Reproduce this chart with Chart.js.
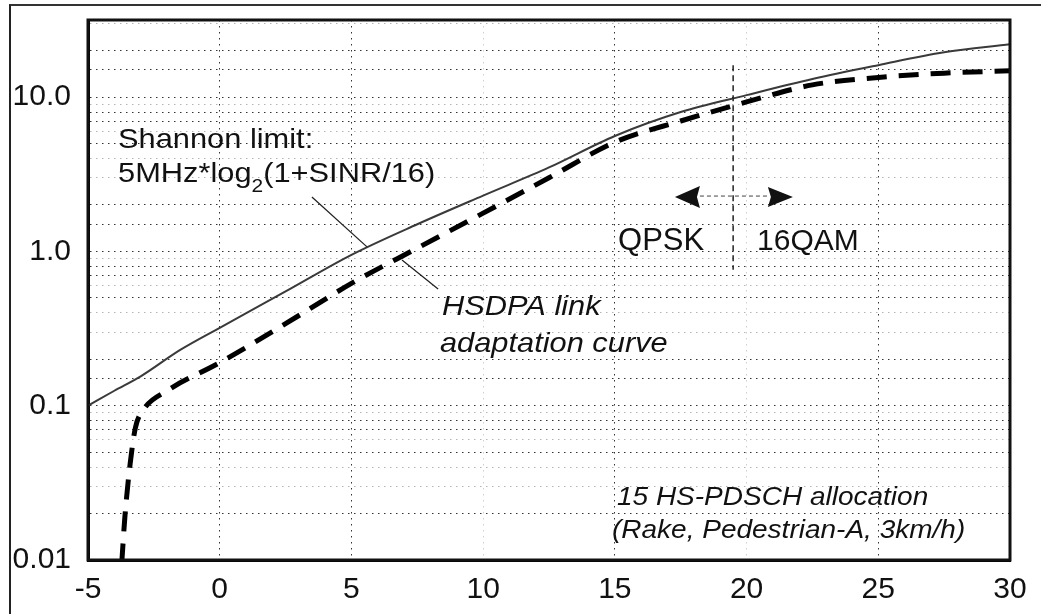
<!DOCTYPE html>
<html>
<head>
<meta charset="utf-8">
<script src="https://cdn.jsdelivr.net/npm/chart.js@4.4.1/dist/chart.umd.min.js"></script>
<style>
html,body{margin:0;padding:0;background:#fff;}
#wrap{position:relative;width:1041px;height:614px;overflow:hidden;background:#fff;}
#frame{position:absolute;left:9px;top:4px;width:1100px;height:700px;border-left:2px solid #222;border-top:2px solid #333;pointer-events:none;}
canvas{position:absolute;left:0;top:0;}
</style>
</head>
<body>
<div id="wrap"><canvas id="c" width="1041" height="614"></canvas><div id="frame"></div></div>
<script>
// ---- data ----
const shannonSinr = [-5, -4, -3, -1.5, 0, 2.5, 5, 7.5, 10, 12.5, 15, 17.5, 20, 22.5, 25, 27.5, 30];
const shannonMbps = [0.1, 0.125, 0.155, 0.23, 0.32, 0.55, 0.95, 1.5, 2.3, 3.5, 5.6, 8.0, 10.3, 13.1, 16.1, 19.5, 22];
const hsdpaSinr = [-3.72, -3.6, -3.4, -3.2, -2.9, -2, 0, 2.5, 5, 7.5, 10, 12.5, 15, 17.5, 20, 22.5, 25, 27.5, 30];
const hsdpaMbps = [0.0095, 0.019, 0.042, 0.072, 0.094, 0.125, 0.19, 0.34, 0.62, 1.05, 1.77, 3.0, 5.1, 7.0, 9.3, 12.0, 13.4, 14.3, 14.8];
const yLabelValues = [0.01, 0.1, 1, 10];
const yLabelTexts = ['0.01', '0.1', '1.0', '10.0'];
const xMin = -5, xMax = 30, xStep = 5;
const yMin = 0.01, yMax = 31.6;
const modulationBoundary = 19.49;

// ---- annotation layout (data coordinates) ----
const FONT = '"Liberation Sans", Arial, sans-serif';
const notes = [
  {text: 'Shannon limit:', x: -3.86, y: 4.68, size: 28, italic: false, sx: 1.1},
  {text: 'HSDPA link', x: 8.44, y: 0.387, size: 28, italic: true, sx: 1.1},
  {text: 'adaptation curve', x: 8.36, y: 0.223, size: 28, italic: true, sx: 1.1},
  {text: 'QPSK', x: 15.12, y: 1.02, size: 31, italic: false, sx: 1.0},
  {text: '16QAM', x: 20.40, y: 1.02, size: 30, italic: false, sx: 1.0},
  {text: '15 HS-PDSCH allocation', x: 15.08, y: 0.0227, size: 25, italic: true, sx: 1.12},
  {text: '(Rake, Pedestrian-A, 3km/h)', x: 14.89, y: 0.0139, size: 25, italic: true, sx: 1.12}
];
const formula = {x: -3.86, y: 2.82, size: 28, sx: 1.1, a: '5MHz*log', sub: '2', b: '(1+SINR/16)'};
const leaders = [
  {x1: 3.50, y1: 2.25, x2: 5.59, y2: 1.07},
  {x1: 6.92, y1: 0.88, x2: 8.29, y2: 0.571}
];
const arrowRow = {y: 2.25, leftTip: 17.28, leftBase: 18.23, rightBase: 20.81, rightTip: 21.76};
const boundaryLine = {yTop: 16.1, yBottom: 0.76};

const annotPlugin = {
  id: 'annot',
  afterDatasetsDraw(chart) {
    const {ctx, scales: {x, y}, chartArea: a} = chart;
    const px = v => x.getPixelForValue(v);
    const py = v => y.getPixelForValue(v);
    ctx.save();
    ctx.fillStyle = '#111';
    ctx.textBaseline = 'alphabetic';
    ctx.textAlign = 'left';
    const drawText = (t, X, Y, font, sx) => {
      ctx.save();
      ctx.translate(X, Y);
      ctx.scale(sx, 1);
      ctx.font = font;
      ctx.fillText(t, 0, 0);
      const w = ctx.measureText(t).width * sx;
      ctx.restore();
      return w;
    };
    notes.forEach(n => {
      drawText(n.text, px(n.x), py(n.y), (n.italic ? 'italic ' : '') + n.size + 'px ' + FONT, n.sx);
    });
    // formula with subscript
    let fx = px(formula.x); const fy = py(formula.y);
    fx += drawText(formula.a, fx, fy, formula.size + 'px ' + FONT, formula.sx);
    fx += drawText(formula.sub, fx, fy + 10, '19px ' + FONT, formula.sx);
    drawText(formula.b, fx, fy, formula.size + 'px ' + FONT, formula.sx);

    // leader lines
    ctx.strokeStyle = '#222';
    ctx.lineWidth = 1.3;
    leaders.forEach(l => {
      ctx.beginPath();
      ctx.moveTo(px(l.x1), py(l.y1));
      ctx.lineTo(px(l.x2), py(l.y2));
      ctx.stroke();
    });

    // modulation boundary
    ctx.setLineDash([6, 4]);
    ctx.lineWidth = 1.5;
    ctx.beginPath();
    ctx.moveTo(px(modulationBoundary), py(boundaryLine.yTop));
    ctx.lineTo(px(modulationBoundary), py(boundaryLine.yBottom));
    ctx.stroke();

    // arrow connector
    const ay = py(arrowRow.y);
    ctx.setLineDash([4, 3]);
    ctx.lineWidth = 1;
    ctx.strokeStyle = '#444';
    ctx.beginPath();
    ctx.moveTo(px(arrowRow.leftBase), ay - 1);
    ctx.lineTo(px(arrowRow.rightBase), ay - 1);
    ctx.stroke();
    ctx.setLineDash([]);
    ctx.fillStyle = '#111';
    ctx.beginPath();
    ctx.moveTo(px(arrowRow.leftTip), ay);
    ctx.lineTo(px(arrowRow.leftBase), ay - 11);
    ctx.lineTo(px(arrowRow.leftBase) - 3, ay);
    ctx.lineTo(px(arrowRow.leftBase), ay + 11);
    ctx.closePath();
    ctx.fill();
    ctx.beginPath();
    ctx.moveTo(px(arrowRow.rightTip), ay);
    ctx.lineTo(px(arrowRow.rightBase), ay - 10);
    ctx.lineTo(px(arrowRow.rightBase) + 3, ay);
    ctx.lineTo(px(arrowRow.rightBase), ay + 10);
    ctx.closePath();
    ctx.fill();

    // plot frame
    ctx.strokeStyle = '#111';
    ctx.lineWidth = 3;
    ctx.strokeRect(a.left, a.top, a.right - a.left, a.bottom - a.top);
    ctx.restore();
  }
};

const shannonPts = shannonSinr.map((s, i) => ({x: s, y: shannonMbps[i]}));
const hsdpaPts = hsdpaSinr.map((s, i) => ({x: s, y: hsdpaMbps[i]}));

new Chart(document.getElementById('c'), {
  type: 'line',
  data: {
    datasets: [
      {label: 'Shannon limit', data: shannonPts, borderColor: '#3a3a3a', borderWidth: 2,
       pointRadius: 0, fill: false, cubicInterpolationMode: 'monotone'},
      {label: 'HSDPA link adaptation curve', data: hsdpaPts, borderColor: '#000', borderWidth: 5,
       borderDash: [20, 12], pointRadius: 0, fill: false, cubicInterpolationMode: 'monotone'}
    ]
  },
  options: {
    responsive: false,
    animation: false,
    devicePixelRatio: 1,
    layout: {padding: {left: 0, top: 20, right: 31, bottom: 0}},
    plugins: {legend: {display: false}, tooltip: {enabled: false}},
    scales: {
      x: {
        type: 'linear', min: xMin, max: xMax,
        ticks: {stepSize: xStep, font: {family: FONT, size: 30}, color: '#111', padding: 12, maxRotation: 0,
                callback: v => String(v)},
        grid: {drawTicks: false, lineWidth: 1,
               color: c => (c.tick && (c.tick.value === 10 || c.tick.value === 20)) ? '#cfcfcf' : '#333'},
        border: {display: true, color: '#000', width: 3, dash: [1.5, 4.5]},
        afterFit: s => { s.height = 54; s.paddingLeft = 0; s.paddingRight = 0; }
      },
      y: {
        type: 'logarithmic', min: yMin, max: yMax,
        ticks: {
          autoSkip: false, font: {family: FONT, size: 30}, color: '#111', padding: 17,
          callback: v => {
            const i = yLabelValues.findIndex(l => Math.abs(Math.log10(l) - Math.log10(v)) < 1e-6);
            return i >= 0 ? yLabelTexts[i] : '';
          }
        },
        grid: {drawTicks: false, lineWidth: 1,
               color: c => {
                 if (!c.tick) return '#444';
                 const m = Math.round(c.tick.value / Math.pow(10, Math.floor(Math.log10(c.tick.value) + 1e-9)));
                 return (m === 1 || m === 2 || m === 5 || m === 7 || m === 8) ? '#333' : '#b5b5b5';
               }},
        border: {display: true, color: '#000', width: 3, dash: [1.5, 4.5]},
        afterFit: s => { s.width = 88; s.paddingTop = 0; s.paddingBottom = 0; }
      }
    }
  },
  plugins: [annotPlugin]
});
</script>
</body>
</html>
